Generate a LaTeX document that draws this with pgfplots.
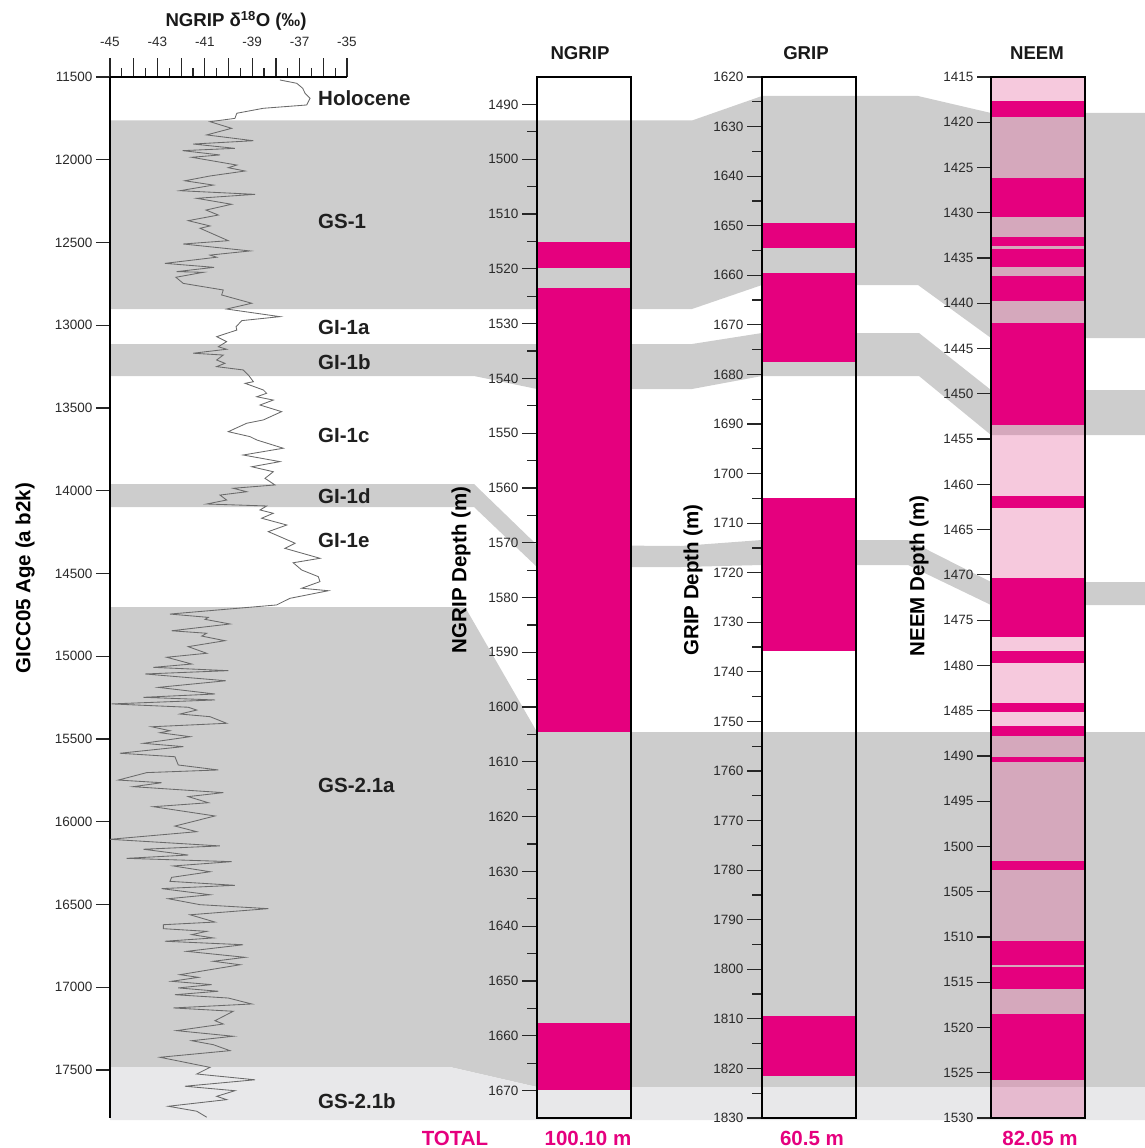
\documentclass[border=0pt]{standalone}
\usepackage{fontspec}
\setmainfont{Liberation Sans}
\usepackage{pgfplots}
\pgfplotsset{compat=1.18}
\definecolor{mag}{HTML}{E5007E}
\definecolor{bandgray}{HTML}{CDCDCD}
\definecolor{lightband}{HTML}{E8E8EA}
\definecolor{pinkbase}{RGB}{229,101,158}
\definecolor{tickcol}{HTML}{2A2A2A}
\definecolor{curvecol}{HTML}{6A6A6A}
\newcommand\tickfont{\fontsize{13.5}{16}\selectfont}
\newcommand\labfont{\fontsize{20.5}{24}\selectfont\bfseries}
\newcommand\titfont{\fontsize{18.6}{22}\selectfont\bfseries}
\newcommand\magbar[2]{\addplot[fill=mag,draw=none] coordinates {(0,#1)(1,#1)(1,#2)(0,#2)} -- cycle;}
\pgfplotsset{
  pxaxis/.style={scale only axis, width=1145pt, height=1148pt, at={(0pt,0pt)}, anchor=south west,
    xmin=0, xmax=1145, ymin=0, ymax=1148, y dir=reverse, hide axis, clip=false},
  colaxis/.style={scale only axis, width=94pt, height=1041pt, anchor=south west,
    y dir=reverse, xmin=0, xmax=1, xtick=\empty, ytick pos=left, tick align=outside,
    axis on top, axis line style={black, line width=1.2pt},
    tick style={black!85, line width=1.2pt},
    major tick length=15pt, minor tick length=10pt,
    yticklabel style={font=\tickfont, text=tickcol},
    scaled y ticks=false,
    /pgf/number format/1000 sep={}, /pgf/number format/assume math mode=true},
}
\begin{document}
\begin{tikzpicture}
\useasboundingbox (0,0) rectangle (1145pt,1148pt);
% background bands in pixel coordinates
\begin{axis}[pxaxis]
\addplot[fill=bandgray,draw=none] coordinates {(110,120.5)(692,120.5)(762,96)(918,96)(991,113)(1145,113)(1145,338)(991,338)(918,285)(762,285)(692,309)(110,309)} -- cycle;
\addplot[fill=bandgray,draw=none] coordinates {(110,344)(692,344)(762,333)(919,333)(991,390)(1145,390)(1145,435)(991,435)(919,376)(762,376)(692,389)(537,389)(474,376)(110,376)} -- cycle;
\addplot[fill=bandgray,draw=none] coordinates {(110,484)(474,484)(537,545)(681,546)(762,540)(908,540)(991,582)(1145,582)(1145,605)(991,605)(908,565)(762,565)(681,567)(537,567)(474,507)(110,507)} -- cycle;
\addplot[fill=bandgray,draw=none] coordinates {(110,607)(465,607)(537,732)(1145,732)(1145,1087)(537,1087)(450,1067)(110,1067)} -- cycle;
\addplot[fill=lightband,draw=none] coordinates {(110,1067)(450,1067)(537,1087)(1145,1087)(1145,1120)(110,1120)} -- cycle;
\end{axis}
% age axis (left)
\begin{axis}[scale only axis, width=237pt, height=1041pt, at={(110pt,30pt)}, anchor=south west,
  xmin=-45, xmax=-35, ymin=11500, ymax=17790, y dir=reverse,
  axis x line=none, axis y line*=left, xtick=\empty, ytick={11500,12000,...,17500},
  scaled y ticks=false,
  tick align=outside, major tick length=14pt, axis line style={black,line width=1.2pt},
  tick style={black!85,line width=1.2pt}, yticklabel style={font=\tickfont,text=tickcol},
  /pgf/number format/1000 sep={}, /pgf/number format/assume math mode=true]
\end{axis}
% d18O axis (top) with curve
\begin{axis}[scale only axis, width=237pt, height=1041pt, at={(110pt,30pt)}, anchor=south west,
  xmin=-45, xmax=-35, ymin=11500, ymax=17790, y dir=reverse,
  axis y line=none, axis x line*=top, ytick=\empty,
  xtick={-45,-44,...,-35}, xticklabels={-45,,-43,,-41,,-39,,-37,,-35}, minor x tick num=1,
  tick align=outside, major tick length=19pt, minor tick length=9pt,
  axis line style={black,line width=1.2pt}, tick style={black!85,line width=1.2pt},
  xticklabel style={font=\tickfont,text=tickcol,yshift=8pt}, clip=false]
\addplot[curvecol, line width=0.85pt, mark=none] coordinates {
(-37.83,11518)(-37.12,11538)(-36.87,11568)(-36.77,11598)(-36.56,11629)(-36.70,11669)(-38.53,11689)(-39.65,11719)(-39.73,11750)(-40.78,11770)(-39.87,11810)(-40.92,11850)(-38.95,11885)(-41.49,11905)(-39.73,11931)(-41.93,11945)(-40.36,11971)(-41.55,11985)(-39.65,12032)(-40.01,12048)(-39.30,12068)(-40.78,12098)(-41.84,12127)(-40.64,12153)(-42.05,12187)(-38.88,12209)(-41.34,12233)(-39.87,12269)(-40.95,12304)(-40.43,12334)(-41.70,12368)(-40.78,12400)(-41.20,12414)(-40.01,12489)(-41.91,12509)(-39.09,12551)(-40.78,12576)(-40.50,12589)(-42.68,12626)(-40.61,12650)(-42.19,12676)(-41.06,12680)(-42.22,12710)(-41.91,12747)(-40.22,12787)(-40.29,12817)(-39.02,12867)(-40.08,12902)(-37.83,12948)(-39.44,12972)(-39.68,13009)(-39.65,13029)(-40.50,13069)(-40.08,13099)(-40.43,13130)
(-40.08,13145)(-41.49,13169)(-40.22,13180)(-40.50,13210)(-40.15,13230)(-40.50,13250)(-39.38,13270)(-39.16,13301)(-38.95,13341)(-39.30,13351)(-38.53,13391)(-38.39,13411)(-38.81,13432)(-38.11,13452)(-38.67,13482)(-37.76,13522)(-38.53,13572)(-39.23,13592)(-40.01,13643)(-39.09,13673)(-38.81,13693)(-37.69,13743)(-39.38,13784)(-37.83,13824)(-39.02,13855)(-38.11,13885)(-38.46,13925)(-38.04,13965)(-39.80,13985)(-39.23,14006)(-40.36,14026)(-40.08,14056)(-40.92,14080)(-38.39,14092)(-38.67,14116)(-38.11,14136)(-38.60,14166)(-37.54,14207)(-38.32,14247)(-37.19,14317)(-37.62,14348)(-36.14,14408)(-37.27,14435)(-36.91,14479)(-36.21,14519)(-36.14,14549)(-36.91,14589)(-35.79,14604)(-37.41,14650)(-37.97,14690)(-42.47,14745)(-40.85,14765)
(-40.99,14777)(-39.94,14805)(-42.40,14846)(-40.92,14861)(-41.13,14878)(-40.15,14906)(-41.70,14942)(-40.92,14982)(-42.61,15006)(-41.55,15047)(-43.17,15067)(-40.01,15087)(-43.52,15107)(-40.11,15148)(-42.96,15188)(-40.57,15228)(-43.59,15248)(-40.57,15264)(-44.93,15288)(-41.70,15308)(-41.34,15325)(-42.05,15349)(-40.78,15365)(-40.08,15405)(-43.24,15426)(-42.47,15450)(-42.89,15462)(-41.62,15486)(-43.59,15526)(-41.91,15546)(-44.58,15586)(-42.26,15607)(-42.12,15657)(-40.43,15687)(-43.45,15703)(-44.65,15748)(-42.82,15764)(-44.02,15788)(-40.22,15824)(-41.70,15848)(-40.85,15885)(-43.17,15909)(-40.57,15965)(-42.26,16026)(-41.34,16060)(-45.00,16106)(-40.36,16146)(-43.59,16166)(-41.70,16201)(-44.30,16221)(-39.87,16241)(-42.33,16267)(-40.78,16302)(-42.40,16336)
(-42.47,16360)(-39.73,16384)(-42.82,16404)(-40.78,16441)(-42.54,16465)(-41.20,16501)(-38.32,16525)(-41.62,16562)(-40.57,16606)(-42.75,16622)(-42.75,16646)(-40.92,16662)(-41.55,16682)(-40.64,16702)(-42.68,16722)(-39.38,16743)(-41.76,16783)(-39.30,16819)(-40.64,16843)(-39.51,16864)(-40.36,16884)(-42.05,16924)(-41.27,16940)(-42.40,16964)(-40.71,16984)(-42.12,17004)(-40.43,17024)(-42.26,17045)(-40.01,17065)(-39.02,17101)(-42.33,17125)(-39.80,17145)(-40.57,17202)(-40.22,17222)(-42.19,17262)(-39.80,17296)(-41.55,17323)(-40.64,17347)(-39.94,17383)(-42.89,17423)(-40.78,17484)(-41.34,17524)(-38.88,17559)(-41.84,17598)(-39.73,17625)(-40.50,17659)(-40.08,17679)(-42.54,17719)(-41.34,17749)(-40.92,17785)
};
\end{axis}
% NGRIP column
\begin{axis}[colaxis, at={(537pt,30pt)}, ymin=1485, ymax=1675, ytick={1490,1500,...,1670}, minor y tick num=1]
\magbar{1515.2}{1519.8}
\magbar{1523.5}{1604.5}
\magbar{1657.6}{1669.8}
\end{axis}
% GRIP column
\begin{axis}[colaxis, at={(762pt,30pt)}, ymin=1620, ymax=1830, ytick={1620,1630,...,1830}, minor y tick num=1]
\magbar{1649.4}{1654.4}
\magbar{1659.5}{1677.4}
\magbar{1704.9}{1735.8}
\magbar{1809.4}{1821.5}
\end{axis}
% NEEM column
\begin{axis}[colaxis, at={(991pt,30pt)}, ymin=1415, ymax=1530, ytick={1415,1420,...,1530}, major tick length=14pt]
\addplot[fill=pinkbase,fill opacity=0.35,draw=none] coordinates {(0,1415)(1,1415)(1,1530)(0,1530)} -- cycle;
\magbar{1417.6}{1419.4}
\magbar{1426.2}{1430.5}
\magbar{1432.7}{1433.7}
\magbar{1434.0}{1436.0}
\magbar{1437.0}{1439.7}
\magbar{1442.2}{1453.4}
\magbar{1461.3}{1462.6}
\magbar{1470.3}{1476.9}
\magbar{1478.4}{1479.7}
\magbar{1484.1}{1485.2}
\magbar{1486.7}{1487.8}
\magbar{1490.1}{1490.7}
\magbar{1501.6}{1502.6}
\magbar{1510.4}{1513.15}
\magbar{1513.3}{1515.7}
\magbar{1518.5}{1525.8}
\end{axis}
% texts
\begin{axis}[pxaxis]
\node[font=\titfont, text=black!90, inner sep=0pt] at (axis cs:236,21) {NGRIP δ\textsuperscript{18}O (‰)};
\node[font=\titfont, text=black!90, inner sep=0pt] at (axis cs:580,53) {NGRIP};
\node[font=\titfont, text=black!90, inner sep=0pt] at (axis cs:806,53) {GRIP};
\node[font=\titfont, text=black!90, inner sep=0pt] at (axis cs:1037,53) {NEEM};
\node[font=\labfont, text=black!88, inner sep=0pt, anchor=west] at (axis cs:318,98) {Holocene};
\node[font=\labfont, text=black!88, inner sep=0pt, anchor=west] at (axis cs:318,221) {GS-1};
\node[font=\labfont, text=black!88, inner sep=0pt, anchor=west] at (axis cs:318,327) {GI-1a};
\node[font=\labfont, text=black!88, inner sep=0pt, anchor=west] at (axis cs:318,362) {GI-1b};
\node[font=\labfont, text=black!88, inner sep=0pt, anchor=west] at (axis cs:318,435) {GI-1c};
\node[font=\labfont, text=black!88, inner sep=0pt, anchor=west] at (axis cs:318,496) {GI-1d};
\node[font=\labfont, text=black!88, inner sep=0pt, anchor=west] at (axis cs:318,540) {GI-1e};
\node[font=\labfont, text=black!88, inner sep=0pt, anchor=west] at (axis cs:318,785) {GS-2.1a};
\node[font=\labfont, text=black!88, inner sep=0pt, anchor=west] at (axis cs:318,1101) {GS-2.1b};
\node[font=\labfont, text=black, inner sep=0pt, rotate=90] at (axis cs:25,578) {GICC05 Age (a b2k)};
\node[font=\labfont, text=black, inner sep=0pt, rotate=90] at (axis cs:461,570) {NGRIP Depth (m)};
\node[font=\labfont, text=black, inner sep=0pt, rotate=90] at (axis cs:693,580) {GRIP Depth (m)};
\node[font=\labfont, text=black, inner sep=0pt, rotate=90] at (axis cs:919,576) {NEEM Depth (m)};
\node[font=\labfont, text=mag, inner sep=0pt] at (axis cs:455,1138) {TOTAL};
\node[font=\labfont, text=mag, inner sep=0pt] at (axis cs:588,1138) {100.10 m};
\node[font=\labfont, text=mag, inner sep=0pt] at (axis cs:812,1138) {60.5 m};
\node[font=\labfont, text=mag, inner sep=0pt] at (axis cs:1040,1138) {82.05 m};
\end{axis}
\end{tikzpicture}
\end{document}
